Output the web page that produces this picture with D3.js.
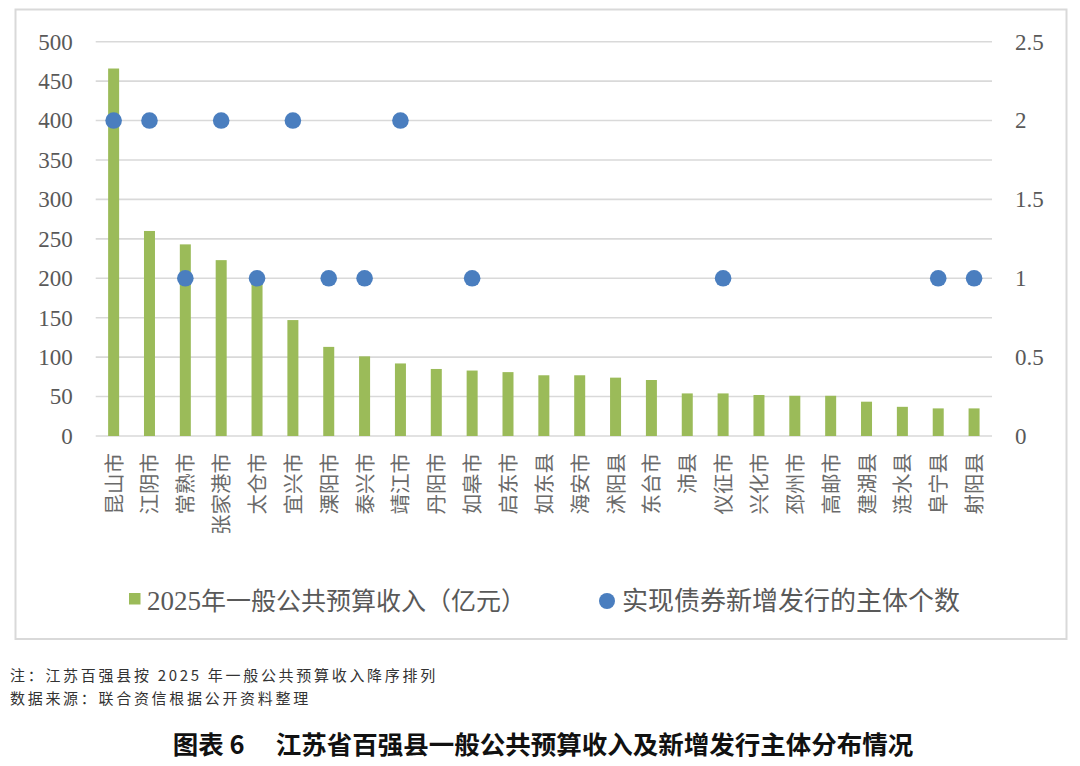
<!DOCTYPE html>
<html>
<head>
<meta charset="utf-8">
<script src="https://cdn.jsdelivr.net/npm/d3@7/dist/d3.min.js"></script>
<style>
  html, body { margin: 0; padding: 0; background: #fff; }
  svg { display: block; }
</style>
</head>
<body>
<svg id="chart" width="1080" height="766"></svg>
<script>
// ---- data ----
const categories = ["昆山市","江阴市","常熟市","张家港市","太仓市","宜兴市","溧阳市","泰兴市","靖江市","丹阳市","如皋市","启东市","如东县","海安市","沭阳县","东台市","沛县","仪征市","兴化市","邳州市","高邮市","建湖县","涟水县","阜宁县","射阳县"];
const revenue = [466, 260, 243, 223, 203, 147, 113, 101, 92, 85, 83, 81, 77, 77, 74, 71, 54, 54, 52, 51, 51, 43.5, 37, 35, 35];
const issuers = [2, 2, 1, 2, 1, 2, 1, 1, 2, null, 1, null, null, null, null, null, null, 1, null, null, null, null, null, 1, 1];
const leftTicks = [0, 50, 100, 150, 200, 250, 300, 350, 400, 450, 500];
const rightTicks = [0, 0.5, 1, 1.5, 2, 2.5];
const seriesNames = ["2025年一般公共预算收入（亿元）", "实现债券新增发行的主体个数"];
const noteLines = ["注：江苏百强县按 2025 年一般公共预算收入降序排列", "数据来源：联合资信根据公开资料整理"];
const titleText = "图表 6\u3000 江苏省百强县一般公共预算收入及新增发行主体分布情况";

// ---- layout ----
const svg = d3.select("#chart");
const plot = { left: 95.7, right: 992, top: 41.7, bottom: 436 };
const green = "#9BBB59", blue = "#4A7EBF", grid = "#D9D9D9", textGray = "#595959";
const serif = "'Liberation Serif','Times New Roman',serif";
const cjk = "'Noto Sans CJK SC','Noto Sans',sans-serif";

// chart frame
svg.append("rect").attr("x", 15.5).attr("y", 9.5).attr("width", 1051).attr("height", 629.5)
  .attr("fill", "#fff").attr("stroke", "#D9D9D9").attr("stroke-width", 2);

const x = d3.scaleBand().domain(categories).range([plot.left, plot.right]).paddingInner(0).paddingOuter(0);
const yL = d3.scaleLinear().domain([0, 500]).range([plot.bottom, plot.top]);
const yR = d3.scaleLinear().domain([0, 2.5]).range([plot.bottom, plot.top]);

// gridlines
svg.append("g").selectAll("line").data(leftTicks).join("line")
  .attr("x1", plot.left).attr("x2", plot.right)
  .attr("y1", d => yL(d)).attr("y2", d => yL(d))
  .attr("stroke", grid).attr("stroke-width", 1.6);

// left axis
const gl = svg.append("g").attr("transform", `translate(${plot.left},0)`)
  .call(d3.axisLeft(yL).tickValues(leftTicks).tickSize(0).tickPadding(23));
gl.select(".domain").remove();
gl.attr("font-family", serif);
gl.selectAll("text").attr("font-family", serif).attr("font-size", 23).attr("fill", textGray);

// right axis
const gr = svg.append("g").attr("transform", `translate(${plot.right},0)`)
  .call(d3.axisRight(yR).tickValues(rightTicks).tickSize(0).tickPadding(23).tickFormat(d3.format("~g")));
gr.select(".domain").remove();
gr.attr("font-family", serif);
gr.selectAll("text").attr("font-family", serif).attr("font-size", 23).attr("fill", textGray);

// bars
const barW = 11;
svg.append("g").selectAll("rect").data(categories).join("rect")
  .attr("x", (d, i) => x(d) + x.bandwidth() / 2 - barW / 2)
  .attr("width", barW)
  .attr("y", (d, i) => yL(revenue[i]))
  .attr("height", (d, i) => yL(0) - yL(revenue[i]))
  .attr("fill", green);

// dots
svg.append("g").selectAll("circle")
  .data(categories.map((c, i) => ({ c, v: issuers[i] })).filter(d => d.v != null))
  .join("circle")
  .attr("cx", d => x(d.c) + x.bandwidth() / 2)
  .attr("cy", d => yR(d.v))
  .attr("r", 8.3)
  .attr("fill", blue);

// x labels (rotated)
svg.append("g").selectAll("text").data(categories).join("text")
  .attr("transform", d => `translate(${x(d) + x.bandwidth() / 2 - 1},453) rotate(-90)`)
  .attr("text-anchor", "end")
  .attr("dominant-baseline", "central")
  .attr("font-family", cjk).attr("font-size", 20.5).attr("fill", "#6a6a6a")
  .text(d => d);

// legend
const lg = svg.append("g");
lg.append("rect").attr("x", 129).attr("y", 593).attr("width", 11.5).attr("height", 11.5).attr("fill", green);
lg.append("text").attr("x", 147).attr("y", 609.5).attr("font-size", 25).attr("fill", textGray)
  .attr("font-family", cjk)
  .call(t => {
    t.append("tspan").attr("font-family", serif).attr("font-size", 27).text(seriesNames[0].slice(0, 4));
    t.append("tspan").text(seriesNames[0].slice(4));
  });
lg.append("circle").attr("cx", 607).attr("cy", 601).attr("r", 8).attr("fill", blue);
lg.append("text").attr("x", 622).attr("y", 609.5).attr("font-size", 26).attr("fill", textGray)
  .attr("font-family", cjk).text(seriesNames[1]);

// notes
svg.append("g").selectAll("text").data(noteLines).join("text")
  .attr("x", 10).attr("y", (d, i) => 681 + i * 23)
  .attr("font-family", cjk).attr("font-size", 15).attr("letter-spacing", 2.7).attr("fill", "#333")
  .text(d => d);

// title
svg.append("text").attr("x", 543).attr("y", 754).attr("text-anchor", "middle")
  .attr("font-family", cjk).attr("font-weight", "bold").attr("font-size", 25.5).attr("fill", "#111")
  .text(titleText);
</script>
</body>
</html>
